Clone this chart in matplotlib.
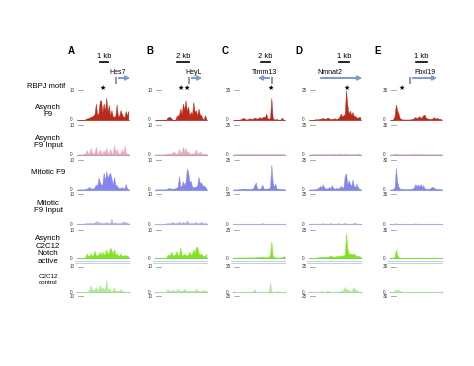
import numpy as np
import matplotlib
matplotlib.use("Agg")
import matplotlib.pyplot as plt
from matplotlib.lines import Line2D
from matplotlib.patches import FancyArrowPatch

plt.rcParams['font.family'] = ['Liberation Sans', 'DejaVu Sans']

W, H = 474, 366

# ---------------- data ----------------
panels = ['A', 'B', 'C', 'D', 'E']
genes = ['Hes7', 'HeyL', 'Timm13', 'Nmnat2', 'Fbxl19']
scale_labels = ['1 kb', '2 kb', '2 kb', '1 kb', '1 kb']
y_max = [10, 10, 25, 25, 30]
row_labels = ['Asynch\nF9', 'Asynch\nF9 Input', 'Mitotic F9', 'Mitotic\nF9 Input',
              'Asynch\nC2C12\nNotch\nactive', 'C2C12\ncontrol']

# signal per track (40 bins along the locus)
hes7_f9 = [0, 0, 0, 0, 0, 0, 0.3, 0.5, 0.6, 0.8, 1.0, 1.2, 1.5, 2.0, 5.5, 1.8, 2.2, 6.3, 6.6, 2.5,
           5.5, 3.0, 7.5, 2.8, 5.0, 1.5, 3.3, 1.2, 1.0, 1.5, 5.2, 1.2, 1.5, 3.3, 2.0, 1.2, 1.0, 3.0, 1.5, 3.0]
hes7_f9_in = [0, 0, 0, 0, 0, 0.3, 0.4, 1.5, 0.4, 0.5, 2.3, 0.4, 0.5, 0.6, 2.6, 0.5, 0.4, 1.8, 0.5, 0.4,
              1.5, 0.5, 2.3, 0.6, 0.5, 2.0, 0.5, 0.4, 3.4, 0.6, 1.8, 0.5, 0.4, 0.5, 1.8, 0.4, 3.0, 0.5, 0.4, 0.3]
hes7_mit = [0, 0, 0, 0, 0, 0, 0.2, 0.3, 0.5, 0.9, 0.4, 0.3, 0.4, 0.8, 1.7, 1.2, 4.0, 2.6, 1.5, 1.8,
            5.7, 3.0, 6.3, 4.0, 5.0, 5.7, 3.8, 1.5, 4.3, 1.5, 1.5, 0.6, 0.5, 0.5, 0.8, 0.4, 0.4, 1.8, 0.3, 0.2]
hes7_mit_in = [0, 0, 0, 0, 0, 0.2, 0.3, 0.3, 0.4, 0.3, 0.3, 0.4, 0.3, 0.5, 0.9, 0.9, 0.4, 0.7, 0.3, 0.3,
               0.4, 0.3, 0.7, 0.3, 0.4, 0.3, 1.8, 0.3, 0.4, 0.6, 0.3, 0.3, 0.3, 0.4, 0.5, 0.9, 0.5, 0.8, 0.3, 0.2]
hes7_notch = [0, 0, 0, 0, 0, 0, 0.5, 1.6, 0.7, 0.8, 1.6, 0.8, 1.0, 2.6, 1.0, 0.9, 1.2, 2.2, 1.0, 2.2,
              1.2, 1.5, 3.0, 1.5, 1.8, 3.7, 2.8, 1.5, 3.2, 1.2, 1.6, 0.9, 0.8, 1.6, 0.8, 0.7, 1.2, 0.6, 1.0, 0.5]
hes7_ctrl = [0, 0, 0, 0, 0, 0, 0, 0, 0.3, 0.8, 2.7, 1.0, 0.8, 1.0, 2.0, 1.0, 1.2, 2.9, 1.0, 2.0,
             1.0, 1.5, 4.7, 1.0, 1.6, 0.6, 0.5, 0.6, 1.8, 0.5, 0.4, 0.5, 0.5, 1.2, 0.4, 0.3, 0.2, 0, 0, 0]

heyl_f9 = [0, 0, 0, 0, 0, 0, 0, 0, 0, 0.8, 1.0, 1.0, 0.6, 0, 0, 0, 1.2, 1.5, 1.8, 3.8,
           2.0, 5.5, 3.5, 6.6, 3.0, 4.4, 1.5, 2.7, 1.8, 6.0, 2.5, 3.3, 1.5, 3.8, 1.8, 1.6, 0.5, 0.2, 1.6, 0.3]
heyl_f9_in = [0, 0, 0, 0, 0, 0, 0, 0, 0.2, 0.3, 0.3, 0.3, 0.4, 0.5, 1.1, 0.4, 0.3, 0.5, 2.0, 0.6,
              0.8, 2.6, 0.8, 2.3, 0.6, 1.1, 0.4, 0.3, 0.4, 0.3, 0.5, 1.8, 0.5, 0.4, 1.1, 0.3, 0.3, 0.2, 0.3, 0.2]
heyl_mit = [0, 0, 0, 0, 0, 0, 0, 0, 0, 0.3, 0.5, 0.4, 0.3, 0.3, 0.3, 0.4, 0.6, 1.0, 4.6, 1.0,
            1.2, 2.8, 1.5, 2.5, 7.1, 6.0, 2.5, 3.0, 1.0, 0.8, 0.8, 1.0, 1.5, 4.3, 2.0, 2.5, 1.2, 1.5, 0.8, 0.6]
heyl_mit_in = [0, 0, 0, 0, 0, 0, 0, 0, 0.2, 0.3, 0.3, 0.3, 0.4, 0.8, 0.3, 0.3, 0.4, 0.4, 0.9, 0.4,
               0.4, 0.8, 0.4, 0.5, 1.2, 0.6, 0.3, 0.3, 0.4, 0.3, 0.4, 0.8, 0.3, 0.3, 0.4, 0.8, 0.3, 0.3, 0.4, 0.2]
heyl_notch = [0, 0, 0, 0, 0, 0, 0, 0, 0, 1.0, 1.2, 1.0, 2.2, 1.0, 1.0, 1.2, 2.4, 1.0, 1.2, 3.8,
              1.2, 1.0, 1.6, 0.9, 1.0, 1.2, 2.2, 1.2, 1.5, 3.0, 1.8, 3.8, 4.0, 1.8, 1.2, 1.6, 0.8, 0.7, 0.8, 1.6]
heyl_ctrl = [0, 0, 0, 0, 0, 0, 0, 0, 0, 1.3, 0.6, 0.5, 0.6, 1.0, 0.5, 0.5, 0.6, 1.3, 0.6, 0.5,
             0.5, 0.6, 1.3, 0.6, 0.5, 0.5, 0.5, 0.4, 0.5, 0.5, 0.6, 1.3, 0.6, 0.5, 0.5, 0.4, 0.5, 0.9, 0.5, 0.6]

timm_f9 = [0, 0, 0, 0, 0, 0.5, 0.8, 1.7, 1.5, 0.6, 0.5, 0.6, 1.5, 1.0, 1.2, 1.0, 2.2, 1.5, 1.2, 1.5,
           2.5, 1.5, 2.0, 3.0, 2.0, 5.3, 1.5, 1.0, 2.0, 18.5, 2.0, 0.5, 0.4, 1.0, 0.3, 0.2, 0.3, 2.0, 0.5, 0.2]
timm_f9_in = [0, 0, 0.1, 0.2, 0.2, 0.2, 0.2, 0.2, 0.3, 0.2, 0.6, 0.2, 0.2, 0.2, 0.3, 0.2, 0.2, 0.2, 0.2, 0.2,
              0.6, 0.2, 0.2, 0.2, 0.3, 0.2, 0.2, 0.2, 0.6, 0.2, 0.2, 0.2, 0.2, 0.6, 0.2, 0.2, 0.2, 0.2, 0.2, 0.1]
timm_mit = [0, 0, 0, 0, 0.2, 0.3, 0.4, 0.5, 0.9, 0.6, 0.5, 0.4, 0.4, 0.5, 0.6, 1.0, 3.7, 6.0, 1.0, 0.6,
            0.8, 1.2, 4.3, 1.0, 0.6, 0.8, 0.8, 1.0, 2.0, 21.0, 6.5, 2.0, 5.0, 1.0, 0.6, 0.8, 0.4, 0.3, 0.3, 0.2]
timm_mit_in = [0, 0, 0.1, 0.2, 0.2, 0.2, 0.2, 0.2, 0.2, 0.2, 0.2, 0.2, 0.2, 0.2, 0.2, 0.2, 0.2, 0.2, 0.2, 0.2,
               0.2, 0.3, 0.8, 0.3, 0.2, 0.2, 0.2, 0.2, 0.2, 0.2, 0.2, 0.2, 0.2, 0.2, 0.2, 0.2, 0.2, 0.2, 0.2, 0.1]
timm_notch = [0, 0, 0.3, 0.4, 0.4, 0.5, 0.4, 0.5, 0.4, 0.5, 0.5, 0.4, 0.6, 0.5, 0.5, 0.6, 0.5, 0.6, 0.8, 1.0,
              1.2, 1.0, 1.2, 1.0, 0.8, 0.8, 0.8, 1.0, 3.0, 14.6, 2.0, 1.0, 0.6, 0.5, 0.4, 0.4, 0.5, 0.6, 1.2, 1.8]
timm_ctrl = [0, 0, 0.1, 0.2, 0.2, 0.2, 0.2, 0.2, 0.2, 0.2, 0.2, 0.2, 0.2, 0.3, 0.5, 0.8, 2.7, 0.5, 0.2, 0.2,
             0.2, 0.2, 0.2, 0.2, 0.2, 0.3, 0.3, 0.5, 10.0, 1.0, 0.3, 0.2, 0.3, 0.5, 1.0, 0.3, 0.2, 0.2, 0.2, 0.1]

nmnat_f9 = [0, 0, 0, 0, 0.5, 0.6, 0.6, 0.8, 1.0, 1.2, 1.7, 1.2, 1.0, 1.5, 2.0, 1.2, 0.8, 0.8, 1.0, 1.5,
            1.0, 0.8, 1.5, 3.0, 5.3, 3.0, 4.0, 5.0, 25.0, 12.4, 5.0, 8.0, 4.0, 6.7, 3.0, 3.4, 2.0, 2.0, 2.5, 2.5]
nmnat_f9_in = [0, 0, 0.1, 0.2, 0.2, 0.3, 0.3, 0.3, 0.3, 0.3, 0.3, 0.3, 0.3, 0.3, 0.3, 0.3, 0.3, 0.3, 1.0, 0.3,
               0.3, 0.3, 0.3, 1.0, 0.3, 0.5, 0.3, 1.0, 0.3, 0.3, 0.3, 0.3, 0.3, 0.3, 0.3, 0.3, 0.3, 0.3, 1.0, 0.3]
nmnat_mit = [0, 0, 0, 0, 0, 0.5, 1.0, 1.5, 3.0, 1.5, 4.3, 2.0, 0.8, 0.8, 1.2, 2.0, 1.0, 3.7, 1.5, 0.8,
             1.0, 1.2, 0.8, 1.5, 3.0, 2.0, 1.5, 12.0, 13.6, 4.0, 8.0, 5.0, 3.0, 8.5, 3.0, 2.0, 5.0, 2.0, 0.8, 0.5]
nmnat_mit_in = [0, 0, 0.1, 0.2, 0.3, 0.3, 0.3, 0.3, 0.3, 0.3, 0.8, 0.3, 0.3, 0.3, 0.3, 0.3, 0.9, 0.3, 0.3, 0.3,
                0.3, 0.3, 0.8, 0.3, 0.3, 0.3, 0.4, 1.0, 0.4, 0.3, 0.3, 0.3, 0.3, 0.4, 1.0, 1.0, 0.4, 0.3, 0.3, 0.2]
nmnat_notch = [0, 0, 0, 0, 0, 0, 0.5, 0.8, 0.9, 1.0, 0.9, 1.0, 1.2, 1.0, 1.2, 1.5, 2.4, 1.5, 1.2, 1.2,
               1.5, 1.8, 1.5, 2.4, 1.8, 2.0, 2.4, 3.0, 22.0, 8.5, 4.0, 3.5, 4.0, 3.0, 4.0, 2.5, 2.0, 1.5, 1.8, 1.2]
nmnat_ctrl = [0, 0, 0.1, 0.2, 0.2, 0.3, 0.3, 0.3, 0.5, 1.2, 0.5, 0.3, 0.4, 0.6, 1.5, 0.6, 0.3, 0.3, 0.3, 0.3,
              0.4, 0.4, 0.5, 0.6, 0.8, 1.5, 2.5, 5.0, 2.5, 3.0, 1.5, 1.2, 1.5, 3.0, 4.7, 2.5, 2.0, 1.0, 0.5, 0.3]

fbxl_f9 = [0, 0, 1.0, 4.0, 15.5, 10.0, 6.4, 2.0, 1.0, 0.6, 0.5, 0.5, 0.5, 0.5, 0.5, 0.6, 0.8, 1.2, 2.0, 3.0,
           1.8, 2.5, 4.0, 2.0, 3.0, 4.7, 5.4, 2.5, 1.5, 1.5, 1.0, 1.2, 1.5, 2.7, 2.0, 1.5, 2.0, 1.2, 1.0, 1.0]
fbxl_f9_in = [0, 0, 0.2, 0.3, 1.0, 0.3, 0.2, 0.2, 0.2, 0.2, 0.2, 0.2, 0.2, 0.2, 0.2, 0.2, 0.2, 0.2, 0.3, 1.0,
              0.3, 0.2, 0.2, 0.2, 0.2, 0.2, 0.2, 0.2, 0.2, 0.2, 0.2, 0.2, 0.2, 0.2, 0.2, 0.2, 0.2, 0.2, 0.2, 0.1]
fbxl_mit = [0, 0, 0.5, 2.0, 22.0, 8.0, 3.0, 1.0, 0.6, 0.4, 0.3, 0.3, 0.3, 0.3, 0.3, 0.4, 0.5, 1.0, 2.5, 5.5,
            3.0, 5.2, 3.0, 5.5, 2.5, 4.5, 1.2, 0.8, 0.6, 0.5, 0.8, 2.0, 2.7, 2.0, 1.0, 0.5, 0.4, 0.3, 0.3, 0.2]
fbxl_mit_in = [0, 0, 0.2, 0.3, 0.8, 0.3, 0.2, 0.2, 0.2, 0.2, 0.2, 0.2, 0.2, 0.2, 0.2, 0.2, 0.2, 0.2, 0.3, 0.8,
               0.3, 0.2, 0.2, 0.2, 0.2, 0.2, 0.2, 0.2, 0.2, 0.2, 0.2, 0.2, 0.2, 0.2, 0.2, 0.2, 0.2, 0.2, 0.2, 0.1]
fbxl_notch = [0, 0, 0.3, 1.5, 9.5, 3.0, 1.0, 0.4, 0.2, 0.2, 0.2, 0.2, 0.2, 0.2, 0.2, 0.2, 0.2, 0.2, 0.2, 0.2,
              0.6, 0.2, 0.2, 0.2, 0.2, 0.2, 0.2, 0.2, 0.2, 0.2, 0.2, 0.2, 0.2, 0.6, 0.2, 0.2, 0.2, 0.2, 0.2, 0.1]
fbxl_ctrl = [0, 0, 0.5, 1.5, 2.8, 2.0, 2.5, 1.5, 0.8, 0.3, 0.2, 0.2, 0.2, 0.2, 0.2, 0.2, 0.2, 0.2, 0.2, 0.2,
             0.2, 0.2, 0.2, 0.2, 0.2, 0.2, 0.2, 0.2, 0.2, 0.2, 0.2, 0.2, 0.2, 0.2, 0.2, 0.2, 0.2, 0.2, 0.2, 0.1]

tracks = [
    [hes7_f9, hes7_f9_in, hes7_mit, hes7_mit_in, hes7_notch, hes7_ctrl],
    [heyl_f9, heyl_f9_in, heyl_mit, heyl_mit_in, heyl_notch, heyl_ctrl],
    [timm_f9, timm_f9_in, timm_mit, timm_mit_in, timm_notch, timm_ctrl],
    [nmnat_f9, nmnat_f9_in, nmnat_mit, nmnat_mit_in, nmnat_notch, nmnat_ctrl],
    [fbxl_f9, fbxl_f9_in, fbxl_mit, fbxl_mit_in, fbxl_notch, fbxl_ctrl],
]

# ---------------- layout (pixels) ----------------
row_colors = ['#bb2a19', '#eca9b3', '#8484ee', '#b2b2e6', '#7fe61e', '#b0eb98']
base_col = '#97a4c8'
arrow_col = '#7c9bc6'
col_left = [77, 155, 233, 309, 390]
track_w = 52
row_top = [90, 125, 160, 194, 230, 267]
row_base = [120, 154.5, 189.5, 224, 258, 292]
letter_x = [71, 150, 225, 299, 378]
bar_x = [(100, 108), (177, 189), (261, 270), (339, 349), (416, 427)]
gene_x = [118, 194, 265, 330, 425]
star_x = [[103], [180.5, 186.5], [271], [347], [402]]


def fx(x):
    return x / W


def fy(y):
    return 1 - y / H


def hline(x0, x1, y, **kw):
    fig.add_artist(Line2D([fx(x0), fx(x1)], [fy(y), fy(y)], **kw))


fig = plt.figure(figsize=(W / 100, H / 100), dpi=100)

for c in range(5):
    left = col_left[c]
    # header: letter, scale bar, gene
    fig.text(fx(letter_x[c]), fy(51), panels[c], fontsize=7, fontweight='bold', ha='center', va='center')
    fig.text(fx(sum(bar_x[c]) / 2), fy(56), scale_labels[c], fontsize=5.5, ha='center', va='center')
    hline(bar_x[c][0], bar_x[c][1], 61.5, color='black', lw=1.2)
    fig.text(fx(gene_x[c]), fy(72), genes[c], fontsize=5, ha='center', va='center')
    for sx in star_x[c]:
        fig.text(fx(sx), fy(88), '★', fontsize=5, ha='center', va='center', family=['DejaVu Sans'])

    for r in range(6):
        t, b = row_top[r], row_base[r]
        ax = fig.add_axes([fx(left), fy(b), track_w / W, (b - t) / H])
        vals = tracks[c][r]
        x = np.arange(len(vals))
        ax.fill_between(x, vals, color=row_colors[r], lw=0.3, zorder=2)
        ax.axhline(0, color=base_col, lw=0.8, clip_on=False, zorder=1)
        ax.set_xlim(-0.5, len(vals) - 0.5)
        ax.set_ylim(0, y_max[c])
        ax.axis('off')
        fig.text(fx(left - 2), fy(t), str(y_max[c]), fontsize=3.3, ha='right', va='center', color='#333333')
        hline(left + 1, left + 6, t, color='#888888', lw=0.5)
        fig.text(fx(left - 5), fy(b), '0', fontsize=3.3, ha='right', va='center', color='#333333')

    # gene annotation line under the Notch track
    hline(left - 2, left + track_w, 261.3, color='#b6c5e4', lw=0.6)
    hline(left - 2, left + track_w, 263.3, color='#b6c5e4', lw=0.6)
    # next empty track label
    fig.text(fx(left - 2), fy(296), str(y_max[c]), fontsize=3.3, ha='right', va='center', color='#333333')
    hline(left + 1, left + 6, 296, color='#888888', lw=0.5)

# gene arrows
arrow_specs = [(116, 133, True), (189, 205, True), (272, 255, True), (318, 365, False), (410, 440, True)]
for x0, x1, bent in arrow_specs:
    y_arr = 78
    if bent:
        fig.add_artist(Line2D([fx(x0), fx(x0)], [fy(83), fy(y_arr)], color=arrow_col, lw=1.4))
    fig.add_artist(FancyArrowPatch((fx(x0), fy(y_arr)), (fx(x1), fy(y_arr)), transform=fig.transFigure,
                                   arrowstyle='->', mutation_scale=6, color=arrow_col, lw=1.4))

# row labels
fig.text(fx(46), fy(86), 'RBPJ motif', fontsize=5.5, ha='center', va='center')
label_y = [111, 142, 173, 207, 250, 279.5]
for r in range(6):
    fs = 4.5 if r == 5 else 5.7
    fig.text(fx(48), fy(label_y[r]), row_labels[r], fontsize=fs, ha='center', va='center', linespacing=1.1)

fig.savefig('out.png', dpi=100)
